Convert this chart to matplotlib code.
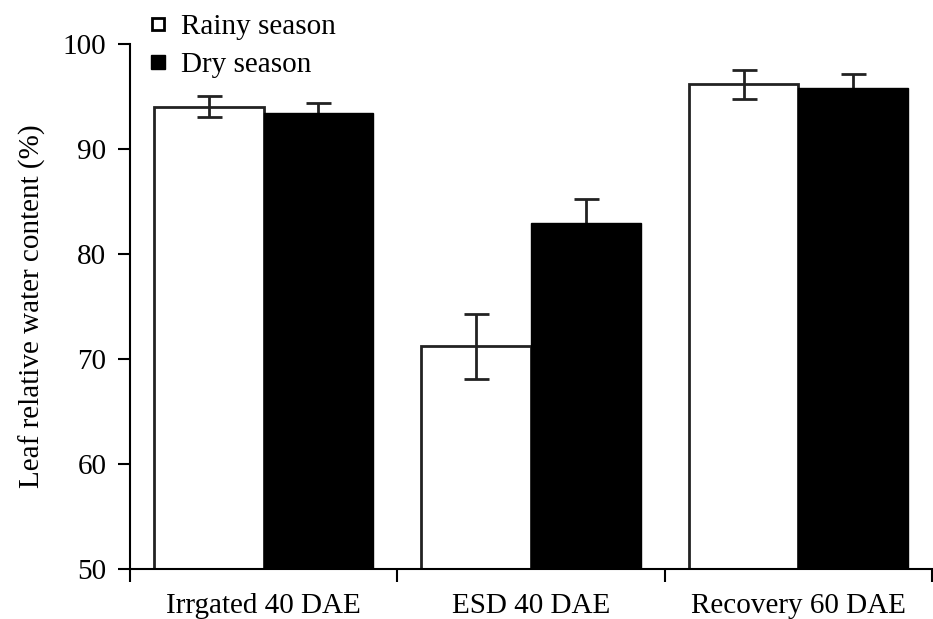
import numpy as np
import matplotlib.pyplot as plt
from matplotlib.lines import Line2D

plt.rcParams['font.family'] = ['Liberation Serif', 'DejaVu Serif']

# data
groups = ["Irrgated 40 DAE", "ESD 40 DAE", "Recovery 60 DAE"]
rainy = [94.0, 71.2, 96.1]
rainy_err = [1.0, 3.1, 1.35]
dry = [93.4, 82.9, 95.8]
dry_err = [0.9, 2.3, 1.3]

fs = 21

fig = plt.figure(figsize=(9.33, 6.19), dpi=100)
ax = fig.add_axes([130/933, 1-569/619, 802/933, (569-43.5)/619])

x = np.arange(len(groups))
w = 0.41
ekw = dict(ecolor="#222222", elinewidth=2, capsize=9, capthick=2, zorder=1)
ax.bar(x - w/2, rainy, w, yerr=rainy_err, color="white", edgecolor="#222222",
       linewidth=2, error_kw=dict(ekw, zorder=3), zorder=2)
ax.bar(x + w/2, dry, w, yerr=dry_err, color="black", edgecolor="black",
       linewidth=1, error_kw=ekw, zorder=2)

ax.set_ylim(50, 100)
ax.set_xlim(-0.5, 2.5)
ax.set_yticks(range(50, 101, 10))
ax.set_xticks([-0.5, 0.5, 1.5, 2.5])
ax.set_xticklabels([])
ax.set_xticks(x, minor=True)
ax.set_xticklabels(groups, minor=True)
ax.tick_params(axis="x", which="minor", length=0, labelsize=fs, pad=17)
ax.tick_params(axis="x", which="major", length=9, width=1.5)
ax.tick_params(axis="y", length=9, width=1.5, labelsize=fs, pad=8)
for s in ["top", "right"]:
    ax.spines[s].set_visible(False)
for s in ["left", "bottom"]:
    ax.spines[s].set_linewidth(1.5)
ax.set_ylabel("Leaf relative water content (%)", fontsize=fs, labelpad=12)

handles = [
    Line2D([], [], marker="s", linestyle="none", markersize=9,
           markerfacecolor="white", markeredgecolor="black", markeredgewidth=2),
    Line2D([], [], marker="s", linestyle="none", markersize=10,
           markerfacecolor="black", markeredgecolor="black"),
]
fig.legend(handles, ["Rainy season", "Dry season"], loc="upper left",
           bbox_to_anchor=(133/933, 1 + 1/619), frameon=False, fontsize=fs,
           handlelength=0.7, handletextpad=0.45, labelspacing=0.4, borderpad=0)

fig.savefig("out.png", dpi=100)
